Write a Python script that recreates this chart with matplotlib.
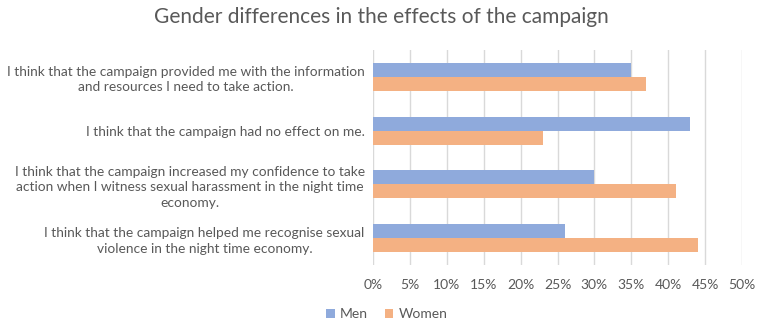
import numpy as np
import matplotlib
matplotlib.use("Agg")
import matplotlib.pyplot as plt

categories = [
    "I think that the campaign provided me with the information\nand resources I need to take action.",
    "I think that the campaign had no effect on me.",
    "I think that the campaign increased my confidence to take\naction when I witness sexual harassment in the night time\neconomy.",
    "I think that the campaign helped me recognise sexual\nviolence in the night time economy.",
]
men = [35, 43, 30, 26]
women = [37, 23, 41, 44]
xticks = [0, 5, 10, 15, 20, 25, 30, 35, 40, 45, 50]

grey = "#595959"
plt.rcParams['font.family'] = ['Lato', 'DejaVu Sans']

fig = plt.figure(figsize=(7.63, 3.28), dpi=100)
ax = fig.add_axes([0.4889, 0.192, 0.4836, 0.6556])

y = np.arange(len(categories))
h = 0.26
ax.barh(y - h/2, men, height=h, color="#8FAADC", label="Men", zorder=3)
ax.barh(y + h/2, women, height=h, color="#F4B183", label="Women", zorder=3)

ax.set_ylim(len(categories) - 0.5, -0.5)
ax.set_xlim(0, 50)
ax.set_xticks(xticks)
ax.set_xticklabels(["{}%".format(t) for t in xticks], color=grey, fontsize=10)
ax.set_yticks(y)
ax.set_yticklabels(categories, color=grey, fontsize=9.9, multialignment="center",
                   linespacing=1.35)
ax.tick_params(axis="both", length=0, pad=10)
ax.tick_params(axis="y", pad=6)
ax.grid(axis="x", color="#D9D9D9", linewidth=1, zorder=0)
for s in ax.spines.values():
    s.set_visible(False)

fig.suptitle("Gender differences in the effects of the campaign", color=grey,
             fontsize=15, y=0.98)

fig.legend(loc="center", bbox_to_anchor=(0.507, 0.042), ncol=2, frameon=False,
           fontsize=10, labelcolor=grey, handlelength=0.6, handleheight=0.6,
           handletextpad=0.4, columnspacing=1.2)

fig.savefig("out.png", dpi=100)
